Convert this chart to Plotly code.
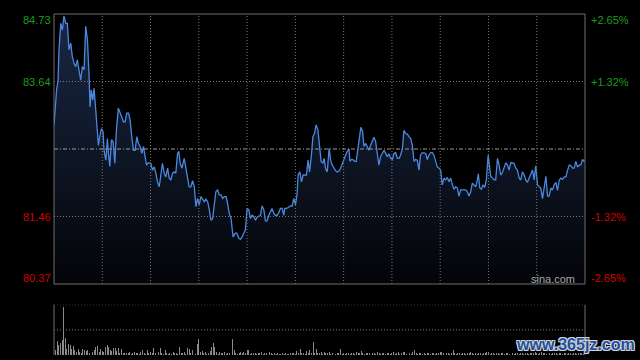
import plotly.graph_objects as go

# ---------------- data ----------------
minutes = [
    0.0, 1.7, 2.5, 3.1, 4.2, 5.2, 6.2, 7.3, 8.3, 9.3,
    10.4, 11.4, 12.5, 13.5, 14.5, 15.6, 16.6, 17.6, 18.7, 19.7,
    20.8, 21.8, 22.4, 23.2, 24.1, 24.9, 25.9, 27.0, 27.6, 28.4,
    29.5, 30.5, 31.1, 32.2, 33.2, 33.8, 34.7, 35.7, 36.7, 37.8,
    38.8, 40.0, 41.1, 42.1, 43.2, 44.2, 45.2, 46.3, 47.3, 48.3,
    49.4, 50.4, 51.5, 52.5, 53.5, 54.6, 55.6, 56.6, 57.5, 58.7,
    60.2, 61.2, 62.3, 63.3, 64.3, 65.4, 66.4, 67.4, 68.5, 69.5,
    70.6, 71.6, 72.6, 73.7, 74.7, 75.7, 76.8, 77.6, 78.4, 79.5,
    80.9, 82.0, 83.0, 84.0, 85.1, 86.1, 87.2, 88.2, 89.2, 90.3,
    91.3, 92.3, 93.4, 94.4, 95.5, 96.5, 97.5, 98.6, 99.6, 100.6,
    101.7, 102.7, 103.8, 104.8, 105.8, 106.9, 107.9, 108.9, 110.0,
    111.3, 112.7, 113.7, 114.8, 115.8, 116.9, 117.9, 118.9, 120.0, 121.0,
    122.1, 123.1, 124.1, 125.2, 126.2, 127.2, 128.3, 129.3, 130.4, 131.4,
    132.4, 133.5, 134.5, 135.5, 136.6, 137.6, 138.7, 139.7, 140.7, 141.8,
    142.8, 143.4, 144.5, 145.9, 147.0, 148.0, 149.0, 150.1, 151.1, 151.7,
    152.8, 153.8, 154.8, 155.9, 156.9, 157.9, 158.8, 159.8, 160.9, 161.9,
    162.9, 164.0, 165.0, 166.0, 167.1, 167.9, 168.7, 169.8, 171.0, 171.9,
    172.9, 173.9, 175.0, 176.0, 177.0, 178.1, 179.1, 180.2, 181.2, 182.2,
    183.3, 183.9, 184.7, 185.8, 186.8, 187.8, 188.9, 189.9, 190.7, 191.8,
    192.6, 193.7, 194.7, 195.7, 196.8, 197.8, 198.8, 199.9, 200.9, 201.9,
    203.0, 204.0, 205.1, 206.1, 207.1, 208.2, 209.2, 210.3, 211.3, 212.3,
    213.4, 214.4, 215.4, 216.5, 217.5, 218.6, 219.6, 220.6, 221.7,
    222.7, 223.7, 224.7, 225.8, 226.8, 227.8, 228.9, 229.9, 231.0, 232.0,
    233.0, 234.1, 235.1, 236.1, 237.2, 238.2, 239.3, 240.3, 241.3, 242.4,
    243.4, 244.4, 245.5, 246.5, 247.6, 248.6, 249.6, 250.7, 251.7, 252.7,
    253.8, 254.8, 255.9, 256.9, 257.9, 259.0, 260.0, 261.0, 262.1, 263.1,
    263.7, 264.6, 265.6, 266.6, 267.7, 268.7, 269.8, 270.6, 271.4, 272.5,
    273.5, 274.5, 275.6, 276.6, 277.6, 278.7, 279.7, 280.8, 281.8, 282.8,
    283.9, 284.9, 285.9, 287.0, 288.0, 289.1, 290.1, 291.1, 292.2, 293.2,
    294.2, 295.3, 296.3, 297.4, 298.4, 299.4, 300.5, 301.5, 302.5, 303.6,
    304.6, 305.7, 306.7, 307.7, 308.8, 309.8, 310.8, 311.9, 312.9, 314.0,
    315.0, 316.0, 317.1, 318.1, 319.2, 320.2, 321.2, 322.3, 323.3, 324.3,
    325.4, 326.4, 327.4, 328.5, 329.5, 330.0,
]

prices = [
    82.94, 83.53, 83.64, 84.15, 84.58, 84.47, 84.70, 84.58, 84.58, 84.15,
    84.26, 84.04, 83.93, 83.88, 83.99, 83.80, 83.66, 83.88, 83.83, 84.53,
    84.31, 83.72, 83.23, 83.50, 83.34, 83.53, 83.13, 82.70, 82.61, 82.75,
    82.88, 82.83, 82.53, 82.37, 82.72, 82.48, 82.27, 82.70, 82.67, 82.32,
    82.86, 83.21, 83.13, 83.05, 82.99, 82.99, 83.13, 83.13, 83.02, 82.75,
    82.53, 82.53, 82.75, 82.64, 82.59, 82.48, 82.59, 82.43, 82.29, 82.33,
    82.32, 82.21, 82.26, 82.16, 82.02, 81.94, 82.10, 82.32, 82.16, 82.10,
    82.24, 82.08, 82.05, 82.16, 82.18, 82.16, 82.48, 82.51, 82.32, 82.24,
    82.40, 82.21, 82.08, 81.94, 81.94, 82.04, 81.94, 81.62, 81.75, 81.65,
    81.78, 81.73, 81.70, 81.74, 81.70, 81.57, 81.40, 81.43, 81.62, 81.86,
    81.89, 81.81, 81.81, 81.75, 81.78, 81.78, 81.67, 81.51, 81.43,
    81.13, 81.19, 81.19, 81.11, 81.09, 81.13, 81.19, 81.24, 81.59, 81.57,
    81.43, 81.48, 81.46, 81.40, 81.45, 81.46, 81.48, 81.63, 81.57, 81.39,
    81.39, 81.48, 81.54, 81.59, 81.51, 81.48, 81.48, 81.52, 81.59, 81.59,
    81.48, 81.59, 81.59, 81.61, 81.63, 81.63, 81.75, 81.65, 81.83, 82.13,
    82.18, 82.02, 82.13, 82.13, 82.13, 82.37, 82.18, 82.40, 82.75, 82.80,
    82.94, 82.86, 82.64, 82.35, 82.32, 82.40, 82.24, 82.18, 82.56, 82.37,
    82.29, 82.24, 82.20, 82.18, 82.19, 82.24, 82.32, 82.40, 82.45, 82.51,
    82.55, 82.35, 82.38, 82.38, 82.35, 82.35, 82.59, 82.80, 82.90, 82.83,
    82.59, 82.64, 82.59, 82.53, 82.61, 82.68, 82.74, 82.67, 82.48, 82.29,
    82.43, 82.48, 82.53, 82.48, 82.43, 82.47, 82.40, 82.38, 82.48, 82.49,
    82.40, 82.40, 82.45, 82.56, 82.85, 82.80, 82.79, 82.75, 82.72,
    82.61, 82.35, 82.38, 82.37, 82.21, 82.45, 82.49, 82.49, 82.48, 82.38,
    82.45, 82.49, 82.49, 82.45, 82.35, 82.26, 82.24, 82.21, 81.97, 82.08,
    82.05, 82.09, 82.02, 82.08, 81.97, 81.90, 81.94, 81.92, 81.79, 81.89,
    81.89, 81.89, 81.89, 81.86, 81.79, 81.86, 82.00, 81.97, 81.94, 82.05,
    82.15, 81.92, 81.90, 81.97, 81.93, 82.05, 82.45, 82.29, 82.11, 82.08,
    82.05, 82.05, 82.40, 82.29, 82.13, 82.17, 82.24, 82.33, 82.29, 82.21,
    82.33, 82.33, 82.32, 82.24, 82.21, 82.08, 82.05, 82.18, 82.13, 82.05,
    82.01, 82.08, 82.13, 82.21, 82.05, 82.28, 81.97, 81.94, 81.92, 81.75,
    81.92, 82.11, 81.79, 81.79, 81.92, 81.89, 81.97, 82.01, 81.88, 82.05,
    82.08, 82.06, 82.10, 82.10, 82.21, 82.29, 82.28, 82.24, 82.24, 82.35,
    82.26, 82.29, 82.29, 82.38, 82.35, 82.35,
]

volumes = [
    83, 50, 143, 100, 123, 150, 483, 173, 60, 110,
    100, 57, 90, 50, 33, 57, 30, 23, 57, 50,
    40, 50, 17, 77, 30, 50, 77, 90, 33, 57,
    43, 33, 83, 100, 77, 50, 43, 67, 67, 40,
    67, 23, 57, 17, 20, 23, 17, 30, 13, 20,
    33, 17, 23, 13, 27, 50, 17, 13, 50, 20,
    27, 17, 70, 20, 23, 30, 70, 17, 13, 50,
    17, 13, 20, 13, 27, 17, 20, 13, 80, 20,
    17, 27, 13, 70, 60, 17, 50, 20, 13, 110,
    160, 30, 40, 17, 30, 13, 20, 40, 80, 120,
    80, 27, 13, 30, 17, 20, 30, 13, 20, 17,
    23, 160, 50, 17, 13, 20, 30, 17, 30, 20,
    50, 50, 13, 20, 17, 23, 13, 20, 17, 27,
    13, 17, 23, 13, 30, 17, 13, 20, 13, 17,
    15, 13, 20, 13, 17, 15, 13, 20, 17, 23,
    13, 40, 17, 60, 20, 17, 13, 40, 20, 50,
    17, 130, 20, 60, 17, 23, 30, 13, 30, 17,
    20, 30, 13, 17, 30, 13, 20, 17, 60, 13,
    20, 13, 17, 23, 13, 20, 17, 13, 27, 17,
    20, 40, 17, 13, 20, 17, 23, 13, 17, 20,
    13, 27, 17, 13, 20, 17, 13, 23, 17, 13,
    20, 27, 13, 17, 30, 13, 20, 33, 27, 13,
    17, 20, 13, 27, 50, 17, 13, 20, 23, 13,
    17, 13, 20, 17, 13, 23, 17, 13, 20, 17,
    27, 33, 20, 13, 17, 20, 13, 23, 47, 17,
    13, 20, 17, 13, 20, 17, 13, 23, 17, 33,
    20, 13, 17, 13, 20, 17, 13, 23, 17, 27,
    30, 13, 17, 20, 13, 23, 17, 13, 20, 17,
    13, 20, 17, 13, 23, 17, 13, 20, 17, 13,
    20, 23, 13, 17, 20, 13, 17, 20, 23, 27,
    17, 13, 20, 27, 17, 23, 13, 20, 17, 13,
    20, 17, 23, 13, 17, 20, 13, 17, 23, 13,
    20, 17, 13, 20, 17, 13, 23, 17, 20, 13,
    27,
]

prev_close = 82.55
price_min, price_max = 80.37, 84.73
price_ticks = [84.73, 83.64, 81.46, 80.37]
pct_labels = ["+2.65%", "+1.32%", "-1.32%", "-2.65%"]
grid_minutes = [30, 60, 90, 120, 150, 180, 210, 240, 270, 300]
session_minutes = 330

assert len(minutes) == len(prices)

# ---------------- styling ----------------
BG = "#000000"
BORDER = "#6e6e6e"
GRID = "#7a7a7a"
UP = "#1c9c1c"
DOWN = "#d40000"
LINE = "#4a88e0"
FONT = "Liberation Sans, Arial, sans-serif"

main_dom = [0.2082, 1.0]
vol_dom = [0.0, 0.1475]
vol_top = 503

fig = go.Figure()
fig.add_trace(go.Scatter(
    x=minutes, y=prices, mode="lines",
    line=dict(color=LINE, width=1.3),
    fill="tozeroy",
    fillgradient=dict(type="vertical",
                      colorscale=[[0, "rgb(3,4,8)"], [1, "rgb(26,40,68)"]],
                      start=price_min, stop=price_max),
    xaxis="x", yaxis="y", hoverinfo="skip", showlegend=False,
))
fig.add_trace(go.Bar(
    x=list(range(len(volumes))), y=volumes, width=0.6,
    marker=dict(color="#8a8a8a", line=dict(width=0)),
    xaxis="x2", yaxis="y2", hoverinfo="skip", showlegend=False,
))

shapes = []
for m in grid_minutes:
    shapes.append(dict(type="line", xref="x", yref="paper", x0=m, x1=m,
                       y0=main_dom[0], y1=main_dom[1], layer="above",
                       line=dict(color=GRID, width=1, dash="1px,2px")))
for p in price_ticks[1:3]:
    shapes.append(dict(type="line", xref="paper", yref="y", x0=0, x1=1,
                       y0=p, y1=p, layer="above",
                       line=dict(color=GRID, width=1, dash="1px,2px")))
shapes.append(dict(type="line", xref="paper", yref="y", x0=0, x1=1,
                   y0=prev_close, y1=prev_close, layer="above",
                   line=dict(color="#9a9a9a", width=1, dash="4px,2px,1px,2px")))
shapes.append(dict(type="rect", xref="paper", yref="paper", x0=0, x1=1,
                   y0=main_dom[0], y1=main_dom[1], layer="above",
                   line=dict(color=BORDER, width=1)))
for yv in [vol_top, vol_top / 2]:
    shapes.append(dict(type="line", xref="paper", yref="y2", x0=0, x1=1,
                       y0=yv, y1=yv, layer="above",
                       line=dict(color=GRID, width=1, dash="1px,2px")))
for xv in [0, 1]:
    shapes.append(dict(type="line", xref="paper", yref="paper", x0=xv, x1=xv,
                       y0=vol_dom[0], y1=vol_dom[1], layer="above",
                       line=dict(color=BORDER, width=1)))

annotations = []
shifts = [-6, 0, 0, 6]
for v, lab, s in zip(price_ticks, pct_labels, shifts):
    col = UP if v > prev_close else DOWN
    annotations.append(dict(xref="paper", yref="y", x=-0.002, y=v, yshift=s,
                            text=f"{v:.2f}", showarrow=False,
                            xanchor="right", yanchor="middle",
                            font=dict(family=FONT, size=11, color=col)))
    annotations.append(dict(xref="paper", yref="y", x=1.007, y=v, yshift=s,
                            text=lab, showarrow=False,
                            xanchor="left", yanchor="middle",
                            font=dict(family=FONT, size=11, color=col)))
annotations.append(dict(xref="paper", yref="paper", x=0.939, y=0.222,
                        text="sina.com", showarrow=False,
                        xanchor="center", yanchor="middle",
                        font=dict(family=FONT, size=11, color="#a8a8a8")))
annotations.append(dict(xref="paper", yref="paper", x=0.983, y=0.03,
                        text="www.365jz.com", showarrow=False,
                        xanchor="center", yanchor="middle",
                        font=dict(family=FONT, size=16, color="#244f96",
                                  weight="bold",
                                  shadow="1px 1px 0 #cfd6e0, -1px -1px 0 #cfd6e0, 1px -1px 0 #cfd6e0, -1px 1px 0 #cfd6e0")))

fig.update_layout(
    width=640, height=360, autosize=False,
    margin=dict(l=54, r=55, t=14, b=5),
    paper_bgcolor=BG, plot_bgcolor=BG,
    showlegend=False, bargap=0,
    xaxis=dict(domain=[0, 1], range=[0, session_minutes], visible=False, anchor="y"),
    yaxis=dict(domain=main_dom, range=[price_min, price_max], visible=False, anchor="x"),
    xaxis2=dict(domain=[0, 1], range=[0, session_minutes], visible=False, anchor="y2"),
    yaxis2=dict(domain=vol_dom, range=[0, vol_top], visible=False, anchor="x2"),
    shapes=shapes, annotations=annotations,
)

fig.write_html(
    "out.html",
    config={"displayModeBar": False, "staticPlot": True},
    post_script="document.body.style.margin='0';document.body.style.background='#000';document.body.style.overflow='hidden';",
)
